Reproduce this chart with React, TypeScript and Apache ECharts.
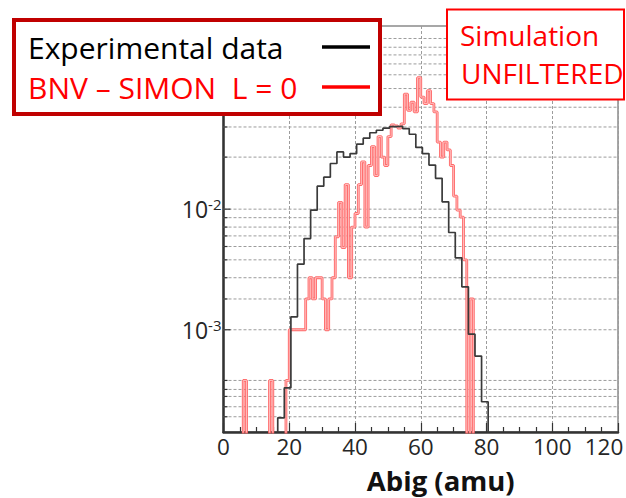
import React, { useEffect, useRef } from 'react';
import * as echarts from 'echarts';

// ---------- data ----------
const EXP_NAME = 'Experimental data';
const SIM_NAME = 'BNV – SIMON\u00a0 L = 0';

// Experimental data: bins of 2 amu, first bin starts at 16.5 amu
const expBinStart = 16.5;
const expBinWidth = 2;
const expValues = [
  1.86e-4, 3.3e-4, 1.28e-3, 3.5e-3, 5.7e-3, 9.8e-3, 1.55e-2, 1.84e-2,
  2.39e-2, 2.98e-2, 2.7e-2, 2.89e-2, 3.46e-2, 3.88e-2, 4.3e-2, 4.51e-2,
  4.69e-2, 4.83e-2, 4.87e-2, 4.66e-2, 4.18e-2, 3.25e-2, 2.89e-2, 2.32e-2,
  1.8e-2, 1.15e-2, 6.4e-3, 3.95e-3, 2.27e-3, 9.2e-4, 6.05e-4, 2.53e-4,
];

// BNV - SIMON simulation: bins of 1 amu, first bin starts at 6 amu
const simBinStart = 6;
const simBinWidth = 1;
const simValues = [
  3.8e-4, 0, 0, 0, 0, 0, 0, 0, 3.8e-4, 0, 0, 0, 0, 3.8e-4, // 6..19
  1.0e-3, 1.0e-3, 1.0e-3, 1.0e-3, 1.0e-3, // 20..24
  1.8e-3, 2.7e-3, 1.8e-3, 2.7e-3, 2.7e-3, 1.8e-3, 1.0e-3, 1.8e-3, 2.7e-3, // 25..33
  5.9e-3, 1.14e-2, 4.8e-3, 1.6e-2, 2.7e-3, 7.1e-3, 9.2e-3, 1.6e-2, 2.47e-2, 7.1e-3, // 34..43
  2.3e-2, 3.3e-2, 1.9e-2, 4.0e-2, 2.7e-2, 2.3e-2, 4.0e-2, 5.0e-2, 4.9e-2, 4.7e-2, // 44..53
  5.1e-2, 9.0e-2, 6.6e-2, 7.7e-2, 6.4e-2, 0.123, 8.5e-2, 7.5e-2, 9.6e-2, 7.5e-2, // 54..63
  6.4e-2, 3.6e-2, 2.7e-2, 3.6e-2, 3.1e-2, 2.3e-2, 1.28e-2, 9.8e-3, 8.6e-3, 3.8e-3, 0, 1.8e-3, // 64..75
];

// axes
const xTickLabels = [0, 20, 40, 60, 80, 100, 120];
const yMin = 1.42e-4;
const yMax = 0.33;
const yLabelPowers = [-3, -2];
const yMajorValues = [0.1, 0.01, 0.001];
const yGridValues = [
  0.26, 0.22, 0.19, 0.16, 0.13, 0.1, 0.07, 0.048, 0.027, 0.01,
  0.0085, 0.0071, 0.006, 0.0049, 0.0038, 0.0027, 0.0018, 0.001,
  3.8e-4, 3.2e-4, 2.8e-4, 2.3e-4, 1.9e-4,
];

const FLOOR = 1e-6; // empty bins drop below the axis

function histPoints(start: number, width: number, vals: number[]) {
  const pts: number[][] = [[start, FLOOR]];
  vals.forEach((v, i) => {
    const y = v > 0 ? v : FLOOR;
    pts.push([start + i * width, y], [start + (i + 1) * width, y]);
  });
  pts.push([start + vals.length * width, FLOOR]);
  return pts;
}

const FONT = 'Open Sans';
const LABEL_COLOR = '#262626';

export default function App() {
  const ref = useRef<HTMLDivElement>(null);
  useEffect(() => {
    if (!ref.current) return;
    const chart = echarts.init(ref.current, null, { renderer: 'svg' });
    const simPts = histPoints(simBinStart, simBinWidth, simValues);
    const xMax = xTickLabels[xTickLabels.length - 1];
    const option: any = {
      animation: false,
      backgroundColor: '#ffffff',
      grid: {
        left: 223.5,
        right: 8,
        top: 26,
        bottom: 66,
        containLabel: false,
        outerBoundsMode: 'none',
        show: true,
        borderColor: '#8a8a8a',
        borderWidth: 1.5,
      },
      legend: {
        show: true,
        orient: 'vertical',
        left: 14,
        top: 20,
        align: 'right',
        icon: 'rect',
        itemWidth: 48,
        itemHeight: 3.5,
        itemGap: 10,
        padding: [12, 10, 12, 14],
        borderColor: '#c00000',
        borderWidth: 4,
        backgroundColor: '#ffffff',
        selectedMode: false,
        data: [
          { name: EXP_NAME, itemStyle: { color: '#000000' } },
          { name: SIM_NAME, itemStyle: { color: '#ff0000' } },
        ],
        formatter: (name: string) => (name === EXP_NAME ? `{a|${name}}` : `{b|${name}}`),
        textStyle: {
          fontFamily: FONT,
          fontSize: 30,
          rich: {
            a: { width: 289, align: 'left', color: '#000000', fontFamily: FONT, fontSize: 30, lineHeight: 30 },
            b: { width: 289, align: 'left', color: '#ff0000', fontFamily: FONT, fontSize: 30, lineHeight: 30 },
          },
        },
      },
      xAxis: {
        type: 'value',
        min: xTickLabels[0],
        max: xMax,
        interval: 20,
        name: 'Abig (amu)',
        nameLocation: 'middle',
        nameGap: 35,
        nameTextStyle: {
          fontFamily: FONT,
          fontSize: 27.5,
          fontWeight: 'bold',
          color: '#111111',
          lineHeight: 27,
          padding: [0, 0, 0, 40],
        },
        axisLine: { onZero: false, lineStyle: { color: '#333333', width: 2.5 } },
        axisTick: { show: true, inside: true, length: 9, lineStyle: { color: '#333333', width: 1.2 } },
        minorTick: { show: true, splitNumber: 4, length: 5, lineStyle: { color: '#333333', width: 1.2 } },
        splitLine: { show: true, lineStyle: { color: '#9c9c9c', width: 1, type: [3, 2] } },
        axisLabel: {
          fontFamily: FONT,
          fontSize: 22.5,
          lineHeight: 22.5,
          color: LABEL_COLOR,
          margin: 3,
          hideOverlap: false,
          formatter: (v: number) => (v === xMax ? `{m|${v}}` : `${v}`),
          rich: {
            m: { fontFamily: FONT, fontSize: 22.5, lineHeight: 22.5, color: LABEL_COLOR, padding: [0, 28, 0, 0] },
          },
        },
      },
      yAxis: {
        type: 'log',
        logBase: 10,
        min: yMin,
        max: yMax,
        axisLine: { show: true, onZero: false, lineStyle: { color: '#333333', width: 2.5 } },
        axisTick: { show: false },
        splitLine: { show: false },
        axisLabel: {
          margin: 2,
          padding: [0, 0, 9, 0],
          formatter: (v: number) => {
            const p = Math.round(Math.log10(v));
            if (Math.abs(Math.log10(v) - p) > 1e-6) return '';
            if (!yLabelPowers.includes(p)) return '';
            return `{b|10}{s|${p}}`;
          },
          rich: {
            b: { fontFamily: FONT, fontSize: 23, lineHeight: 24, color: LABEL_COLOR, padding: [9, 0, 0, 0] },
            s: { fontFamily: FONT, fontSize: 15, lineHeight: 16, color: LABEL_COLOR, verticalAlign: 'top', padding: [4, 0, 0, 0] },
          },
        },
      },
      series: [
        {
          type: 'custom',
          name: 'ygrid',
          silent: true,
          z: 1,
          data: yGridValues.map((v) => [0, v]),
          renderItem: (params: any, api: any) => {
            const cs = params.coordSys;
            const v = api.value(1);
            const y = api.coord([0, v])[1];
            const major = yMajorValues.includes(v);
            return {
              type: 'group',
              children: [
                {
                  type: 'line',
                  shape: { x1: cs.x, y1: y, x2: cs.x + cs.width, y2: y },
                  style: { stroke: '#9c9c9c', lineWidth: 1, lineDash: [3, 2] },
                },
                {
                  type: 'line',
                  shape: { x1: cs.x, y1: y, x2: cs.x + (major ? 7 : 4), y2: y },
                  style: { stroke: '#333333', lineWidth: 1.2 },
                },
              ],
            };
          },
        },
        {
          type: 'line',
          name: SIM_NAME,
          z: 3,
          data: simPts,
          showSymbol: false,
          symbol: 'none',
          clip: true,
          color: '#ff0000',
          lineStyle: { color: '#ff6a6a', width: 2.8 },
        },
        {
          type: 'line',
          name: 'sim-inner',
          z: 3,
          data: simPts,
          showSymbol: false,
          symbol: 'none',
          clip: true,
          silent: true,
          color: '#ffd0d0',
          lineStyle: { color: '#ffd0d0', width: 0.8 },
        },
        {
          type: 'line',
          name: EXP_NAME,
          z: 4,
          data: histPoints(expBinStart, expBinWidth, expValues),
          showSymbol: false,
          symbol: 'none',
          clip: true,
          color: '#000000',
          lineStyle: { color: '#3a3a3a', width: 1.7 },
        },
      ],
      graphic: [
        {
          type: 'rect',
          z: 100,
          shape: { x: 447, y: 9.5, width: 177, height: 90 },
          style: { fill: '#ffffff', stroke: '#ff0000', lineWidth: 2 },
        },
        {
          type: 'text',
          z: 101,
          x: 460,
          y: 35,
          style: { text: 'Simulation', fill: '#ff0000', fontFamily: FONT, fontSize: 28, verticalAlign: 'middle' },
        },
        {
          type: 'text',
          z: 101,
          x: 461,
          y: 72.5,
          style: { text: 'UNFILTERED', fill: '#ff0000', fontFamily: FONT, fontSize: 28, verticalAlign: 'middle' },
        },
      ],
    };
    chart.setOption(option);
    return () => chart.dispose();
  }, []);
  return (
    <div
      ref={ref}
      style={{ position: 'absolute', left: 0, top: 0, width: 626, height: 498, background: '#ffffff' }}
    />
  );
}
